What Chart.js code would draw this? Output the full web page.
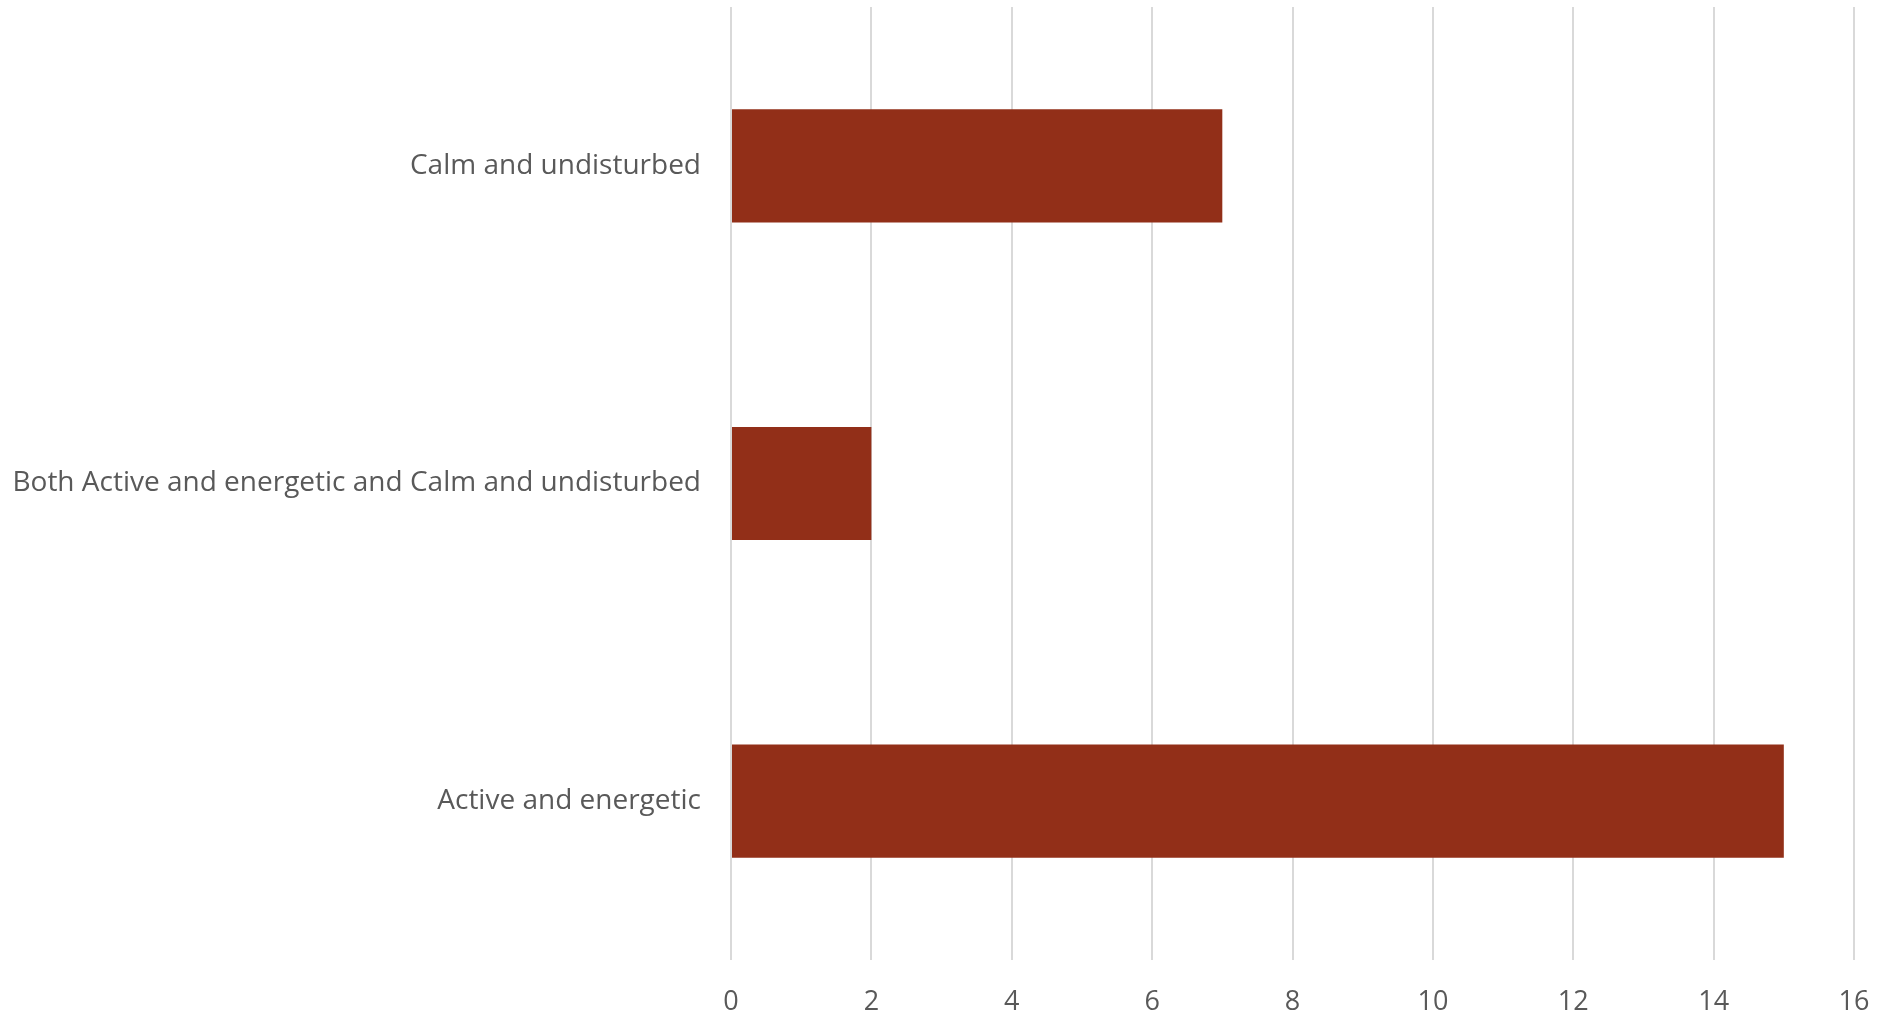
<!DOCTYPE html>
<html>
<head>
<meta charset="utf-8">
<script src="https://cdn.jsdelivr.net/npm/chart.js@4"></script>
<style>
  html, body { margin: 0; padding: 0; background: #fff; overflow: hidden; }
  #wrap { width: 1888px; height: 1018px; }
  canvas { display: block; }
</style>
</head>
<body>
<div id="wrap"><canvas id="chart"></canvas></div>
<script>
// categories, top to bottom
const categories = ['Calm and undisturbed', 'Both Active and energetic and Calm and undisturbed', 'Active and energetic'];
const counts = [7, 2, 15];
const xTicks = [0, 2, 4, 6, 8, 10, 12, 14, 16];

const textColor = '#595959';

new Chart(document.getElementById('chart').getContext('2d'), {
  type: 'bar',
  data: {
    labels: categories,
    datasets: [{
      data: counts,
      backgroundColor: '#922F18',
      borderWidth: 0,
      barPercentage: 0.356,
      categoryPercentage: 1
    }]
  },
  options: {
    indexAxis: 'y',
    responsive: true,
    maintainAspectRatio: false,
    animation: false,
    devicePixelRatio: 1,
    layout: { padding: { top: 7, right: 34, left: 0, bottom: 0 } },
    plugins: { legend: { display: false }, tooltip: { enabled: false } },
    scales: {
      x: {
        min: 0,
        max: 16,
        afterBuildTicks: scale => { scale.ticks = xTicks.map(v => ({ value: v })); },
        grid: { color: '#D9D9D9', lineWidth: 2, drawTicks: false },
        border: { display: false },
        ticks: { color: textColor, font: { family: 'Open Sans', size: 27 }, padding: 26 },
        afterFit: scale => {
          scale.height = 58;
          scale.paddingLeft = 0;
          scale.paddingRight = 0;
        }
      },
      y: {
        grid: { display: false },
        border: { display: false },
        ticks: { color: textColor, font: { family: 'Open Sans', size: 28 }, padding: 22 },
        afterFit: scale => {
          scale.width = 731;
          scale.paddingTop = 0;
          scale.paddingBottom = 0;
        }
      }
    }
  }
});
</script>
</body>
</html>
